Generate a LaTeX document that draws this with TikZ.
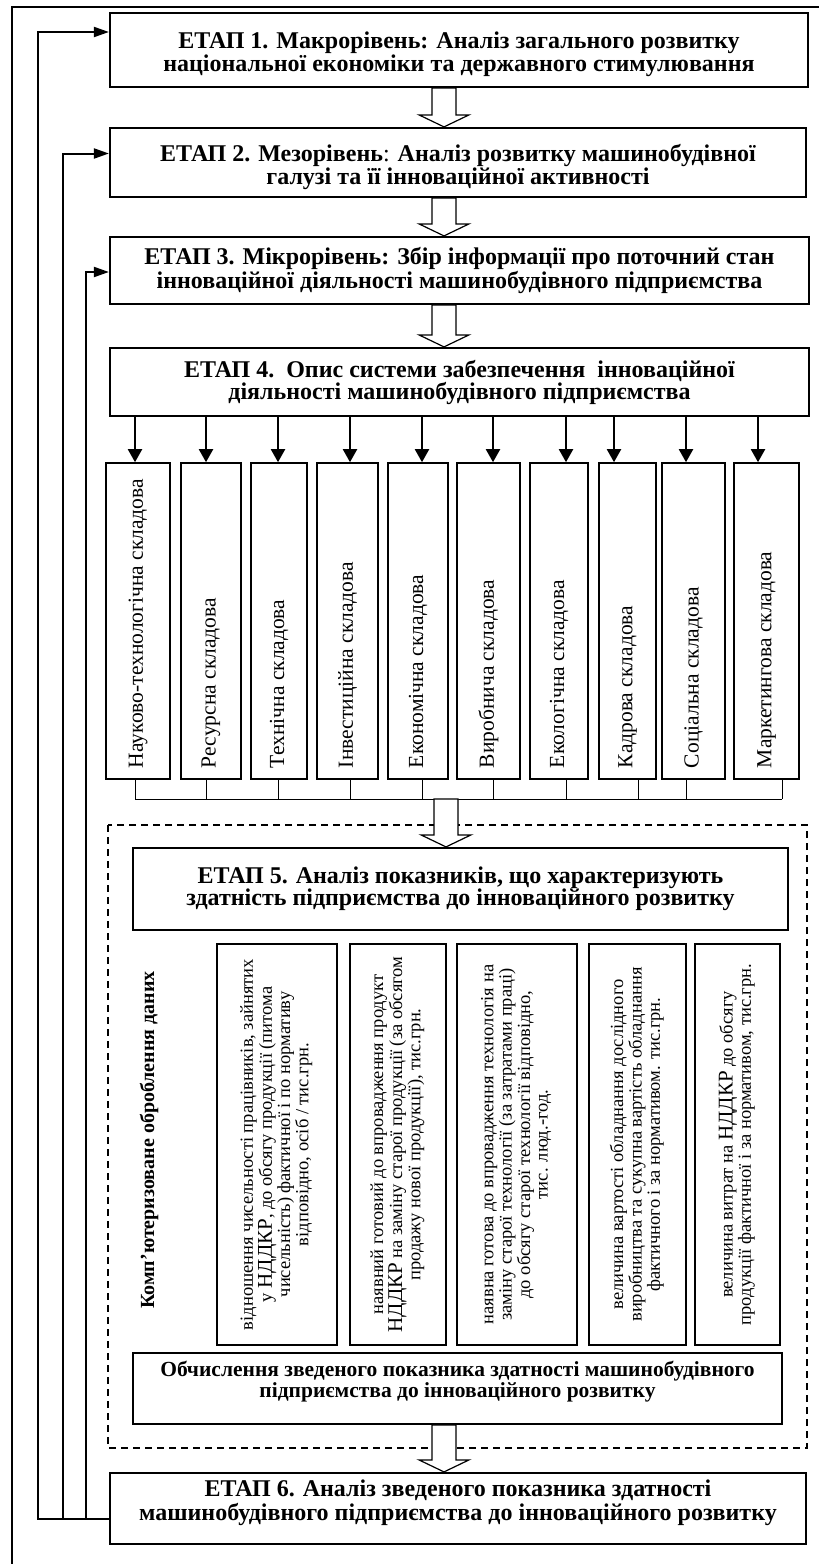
\documentclass[tikz,border=0pt]{standalone}
\usepackage{fontspec}
\setmainfont{Liberation Serif}
\usepackage{graphicx}
\usetikzlibrary{arrows.meta, calc, positioning}

% block arrow between two points, tip at the second one
\newcommand{\blkarrow}[2]{%
  \draw[blk] let \p1=(#1), \p2=(#2) in
    (\x1-12pt,\y1) -- (\x1+12pt,\y1) -- (\x1+12pt,\y2+12pt) -- (\x1+25pt,\y2+12pt)
    -- (\x1,\y2) -- (\x1-25pt,\y2+12pt) -- (\x1-12pt,\y2+12pt) -- cycle;}
\newcommand{\upr}[1]{\rotatebox{90}{\makebox[294pt][l]{#1}}}
\newcommand{\upc}[1]{\rotatebox{90}{\begin{tabular}{@{}c@{}}#1\end{tabular}}}
\newcommand{\mvtxt}[2]{\raisebox{#1}[\height][\depth]{\begin{tabular}{@{}c@{}}#2\end{tabular}}}
\newcommand{\ndkr}{{\fontsize{21}{17.5}\selectfont НДДКР}}

\begin{document}
\begin{tikzpicture}[x=1pt, y=-1pt,
    stage/.style={draw, line width=2.2pt, align=center, inner sep=0pt,
      font=\bfseries\fontsize{24}{22}\selectfont},
    part/.style={draw, line width=1.6pt, inner sep=0pt, minimum height=316pt,
      font=\fontsize{21.5}{22}\selectfont},
    ind/.style={draw, line width=1.4pt, inner sep=0pt, minimum height=401pt,
      font=\fontsize{18.5}{17.5}\selectfont},
    blk/.style={draw, fill=white, line width=1.2pt},
    fb/.style={line width=2pt, -{Triangle[length=15pt, width=10pt]}},
    down/.style={line width=2pt, -{Triangle[length=13pt, width=14pt]}},
    tie/.style={line width=1pt}]
    \useasboundingbox (0,0) rectangle (819,1564);

    % frame %
    \draw[line width=1.2pt] (12,1564) -- (12,7) -- (819,7);
    \draw[line width=1.4pt, dash pattern=on 7pt off 5pt] (108,825) rectangle (807,1448);

    % stages %
    \node[stage, minimum width=698pt, minimum height=74pt] (s1) at (459,50)
      {\mvtxt{-5pt}{ЕТАП 1. Макрорівень: Аналіз загального розвитку\\національної економіки та державного стимулювання}};
    \node[stage, minimum width=696pt, minimum height=69pt] (s2) at (458,162.5)
      {\mvtxt{-5pt}{ЕТАП 2. Мезорівень\textmd{:} Аналіз розвитку машинобудівної\\галузі та її інноваційної активності}};
    \node[stage, minimum width=699pt, minimum height=67pt] (s3) at (459.5,270.5)
      {ЕТАП 3. Мікрорівень: Збір інформації про поточний стан\\інноваційної діяльності машинобудівного підприємства};
    \node[stage, minimum width=699pt, minimum height=68pt] (s4) at (459.5,382)
      {ЕТАП 4.\ \ Опис системи забезпечення\ \ інноваційної\\діяльності машинобудівного підприємства};

    % components %
    \node[part, minimum width=64pt] (c1) at (138,621) {\upr{Науково-технологічна складова}};
    \node[part, minimum width=60pt] (c2) at (211,621) {\upr{Ресурсна складова}};
    \node[part, minimum width=56pt] (c3) at (279,621) {\upr{Технічна складова}};
    \node[part, minimum width=61pt] (c4) at (347.5,621) {\upr{Інвестиційна складова}};
    \node[part, minimum width=60pt] (c5) at (418,621) {\upr{Економічна складова}};
    \node[part, minimum width=63pt] (c6) at (488.5,621) {\upr{Виробнича складова}};
    \node[part, minimum width=58pt] (c7) at (559,621) {\upr{Екологічна складова}};
    \node[part, minimum width=57pt] (c8) at (627.5,621) {\upr{Кадрова складова}};
    \node[part, minimum width=63pt] (c9) at (693.5,621) {\upr{Соціальна складова}};
    \node[part, minimum width=65pt] (c10) at (766.5,621) {\upr{Маркетингова складова}};
    \coordinate (br) at (446,799);

    \node[stage, minimum width=655pt, minimum height=82pt] (s5) at (460.5,889)
      {ЕТАП 5. Аналіз показників, що характеризують\\здатність підприємства до інноваційного розвитку};

    % indicators %
    \node[rotate=90, font=\bfseries\fontsize{20}{22}\selectfont] (lbl) at (149,1140)
      {Комп’ютеризоване оброблення даних};
    \node[ind, minimum width=120pt] (i1) at (277,1144.5)
      {\upc{відношення чисельності працівників, зайнятих\\у \ndkr, до обсягу продукції (питома\\чисельність) фактичної і по нормативу\\відповідно, осіб / тис.грн.}};
    \node[ind, minimum width=96pt] (i2) at (398,1144.5)
      {\upc{наявний готовий до впровадження продукт\\\ndkr{} на заміну старої продукції (за обсягом\\продажу нової продукції), тис.грн.}};
    \node[ind, minimum width=120pt] (i3) at (517,1144.5)
      {\upc{наявна готова до впровадження технологія на\\заміну старої технології (за затратами праці)\\до обсягу старої технології відповідно,\\тис. люд.-год.}};
    \node[ind, minimum width=97pt] (i4) at (637.5,1144.5)
      {\upc{величина вартості обладнання дослідного\\виробництва та сукупна вартість обладнання\\фактичного і за нормативом. тис.грн.}};
    \node[ind, minimum width=85pt] (i5) at (737.5,1144.5)
      {\upc{величина витрат на \ndkr{} до обсягу\\продукції фактичної і за нормативом, тис.грн.}};

    \node[draw, line width=2pt, minimum width=649pt, minimum height=71pt,
      label={[align=center, yshift=7pt, font=\bfseries\fontsize{21.5}{18.5}\selectfont]center:Обчислення зведеного показника здатності машинобудівного\\підприємства до інноваційного розвитку}]
      (calc) at (457.5,1388.5) {};

    \node[stage, minimum width=696pt, minimum height=71pt] (s6) at (458,1508.5)
      {\mvtxt{5pt}{ЕТАП 6. Аналіз зведеного показника здатності\\машинобудівного підприємства до інноваційного розвитку}};

    % edges %
    \coordinate (ax) at (444,0);
    \blkarrow{s1.south -| ax}{s2.north -| ax}
    \blkarrow{s2.south -| ax}{s3.north -| ax}
    \blkarrow{s3.south -| ax}{s4.north -| ax}
    \foreach \c/\a/\b in {c1/-3/-3, c2/-5/-5, c3/-1/-1, c4/2.5/2.5, c5/4/4,
        c6/4.5/4.5, c7/7/7, c8/-13.5/10.5, c9/-7.5/-7.5, c10/-8.5/15.5}{
      \draw[down] ($(s4.south -| \c.north)+(\a,0)$) -- ($(\c.north)+(\a,0)$);
      \draw[tie] ($(\c.south)+(\b,0)$) -- ($(\c.south |- br)+(\b,0)$);
    }
    \draw[tie] ($(c1.south |- br)+(-3,0)$) -- ($(c10.south |- br)+(15.5,0)$);
    \blkarrow{br}{s5.north -| br}
    \blkarrow{calc.south -| ax}{s6.north -| ax}

    \coordinate (j1) at (38,1519);
    \coordinate (j2) at (63,1519);
    \coordinate (j3) at (86,1519);
    \draw[fb] (s6.west |- j1) -- (j1) |- ([yshift=18pt]s1.west);
    \draw[fb] (j2) |- ([yshift=9pt]s2.west);
    \draw[fb] (j3) |- ([yshift=-1.5pt]s3.west);
\end{tikzpicture}
\end{document}
